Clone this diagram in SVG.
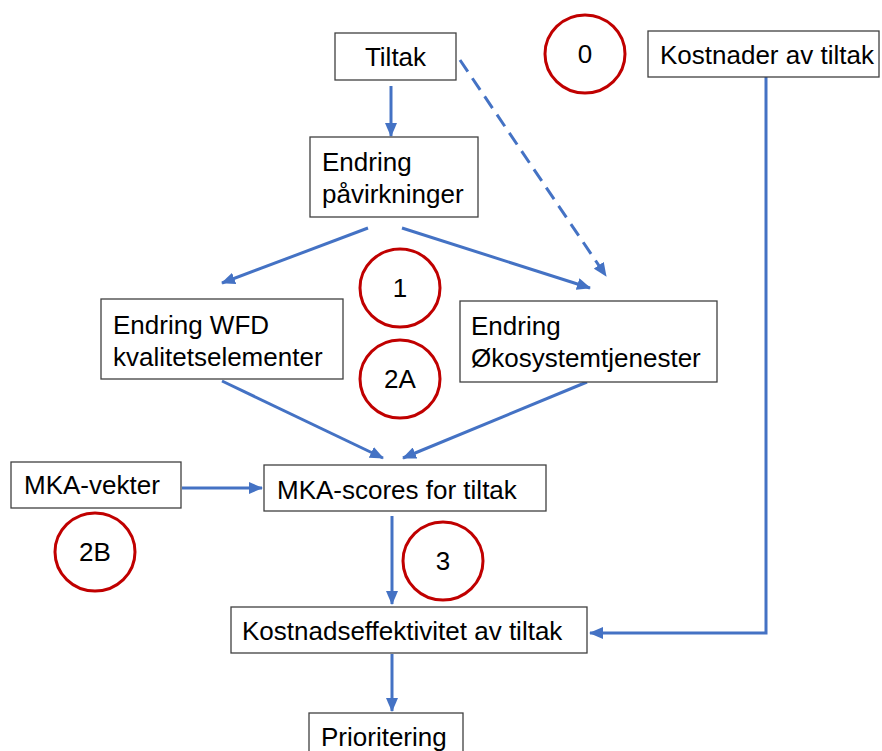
<svg xmlns="http://www.w3.org/2000/svg" width="882" height="751" viewBox="0 0 882 751">
<style>
.box{fill:#fff;stroke:#404040;stroke-width:1.3}
.t{font-family:"Liberation Sans",Arial,sans-serif;font-size:26px;fill:#000}
.c{fill:none;stroke:#C00000;stroke-width:3}
.ct{font-family:"Liberation Sans",Arial,sans-serif;font-size:26px;fill:#000;text-anchor:middle}
.ln{fill:none;stroke:#4472C4;stroke-width:3}
</style>
<defs>
<marker id="ah" markerUnits="userSpaceOnUse" markerWidth="14" markerHeight="12" refX="13" refY="6" orient="auto">
<path d="M0,0 L14,6 L0,12 Z" fill="#4472C4"/>
</marker>
</defs>
<rect width="882" height="751" fill="#fff"/>
<g id="connectors">
<line class="ln" x1="391" y1="86" x2="391" y2="136" marker-end="url(#ah)"/>
<line class="ln" x1="460" y1="60" x2="606" y2="276" stroke-dasharray="14,8" marker-end="url(#ah)"/>
<line class="ln" x1="368" y1="228" x2="222" y2="283" marker-end="url(#ah)"/>
<line class="ln" x1="402" y1="228" x2="590" y2="288" marker-end="url(#ah)"/>
<line class="ln" x1="222" y1="381" x2="383" y2="458" marker-end="url(#ah)"/>
<line class="ln" x1="587" y1="382" x2="403" y2="458" marker-end="url(#ah)"/>
<line class="ln" x1="182" y1="488" x2="262" y2="488" marker-end="url(#ah)"/>
<line class="ln" x1="392" y1="516" x2="392" y2="604" marker-end="url(#ah)"/>
<polyline class="ln" points="766,77 766,633 590,633" marker-end="url(#ah)"/>
<line class="ln" x1="392" y1="654" x2="392" y2="711" marker-end="url(#ah)"/>
</g>
<g id="tiltak"><rect class="box" x="335" y="33" width="121" height="47"/><text class="t" x="395.5" y="66" text-anchor="middle">Tiltak</text></g>
<g id="kostnader"><rect class="box" x="648" y="31" width="231" height="46"/><text class="t" x="660" y="64">Kostnader av tiltak</text></g>
<g id="endring-pavirkninger"><rect class="box" x="310" y="137" width="168" height="80"/><text class="t" x="322" y="171">Endring</text><text class="t" x="322" y="203">påvirkninger</text></g>
<g id="endring-wfd"><rect class="box" x="101" y="299" width="242" height="80"/><text class="t" x="113" y="334">Endring WFD</text><text class="t" x="113" y="366">kvalitetselementer</text></g>
<g id="endring-oko"><rect class="box" x="460" y="301" width="257" height="81"/><text class="t" x="471" y="335">Endring</text><text class="t" x="471" y="367">Økosystemtjenester</text></g>
<g id="mka-vekter"><rect class="box" x="11" y="462" width="170" height="46"/><text class="t" x="24" y="494">MKA-vekter</text></g>
<g id="mka-scores"><rect class="box" x="264" y="465" width="282" height="46"/><text class="t" x="277" y="499">MKA-scores for tiltak</text></g>
<g id="kostnadseffektivitet"><rect class="box" x="231" y="607" width="356" height="46"/><text class="t" x="242" y="640">Kostnadseffektivitet av tiltak</text></g>
<g id="prioritering"><rect class="box" x="309" y="713" width="154" height="50"/><text class="t" x="321" y="746">Prioritering</text></g>
<g id="c0"><ellipse class="c" cx="585" cy="54" rx="40" ry="39"/><text class="ct" x="585" y="63">0</text></g>
<g id="c1"><ellipse class="c" cx="400" cy="288" rx="40" ry="39"/><text class="ct" x="400" y="297">1</text></g>
<g id="c2a"><ellipse class="c" cx="400" cy="379" rx="40" ry="39"/><text class="ct" x="400" y="388">2A</text></g>
<g id="c2b"><ellipse class="c" cx="95" cy="552" rx="40" ry="39"/><text class="ct" x="95" y="561">2B</text></g>
<g id="c3"><ellipse class="c" cx="443" cy="561" rx="40" ry="39"/><text class="ct" x="443" y="570">3</text></g>
</svg>
